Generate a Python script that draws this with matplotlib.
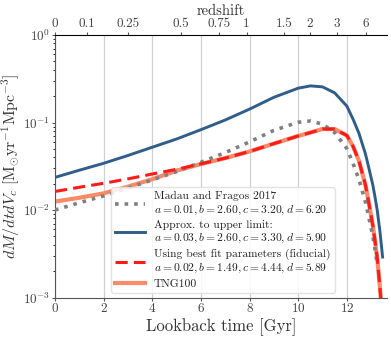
import numpy as np
import matplotlib
matplotlib.use("Agg")
import matplotlib.pyplot as plt

plt.rcParams["font.family"] = "serif"
plt.rcParams["font.serif"] = ["cmr10", "DejaVu Serif"]
plt.rcParams["mathtext.fontset"] = "cm"
plt.rcParams["axes.unicode_minus"] = False
plt.rcParams["axes.formatter.use_mathtext"] = True

# lookback time [Gyr] at which curves were read
t_gyr = [0, 1, 2, 3, 4, 5, 6, 7, 8, 9, 10, 10.5, 11, 11.5, 12, 12.25, 12.5,
         12.77, 12.9, 13.07, 13.15, 13.25, 13.36, 13.47]

madau = [0.0100, 0.0121, 0.0145, 0.0178, 0.0221, 0.0275, 0.0351, 0.0453,
         0.0601, 0.0814, 0.1006, 0.1041, 0.0958, 0.0767, 0.0504, 0.0343,
         0.0222, 0.0122, 0.0083, 0.0050, 0.0037, 0.0024]
upper = [0.0236, 0.0285, 0.0342, 0.0420, 0.0522, 0.0648, 0.0828, 0.1069,
         0.1423, 0.1942, 0.2468, 0.2622, 0.2556, 0.2180, 0.1540, 0.1100,
         0.0750, 0.0433, 0.0306, 0.0192, 0.0145, 0.0099, 0.0057, 0.0029]
bestfit = [0.0163, 0.0182, 0.0202, 0.0227, 0.0258, 0.0292, 0.0337, 0.0392,
           0.0467, 0.0574, 0.0702, 0.0767, 0.0843, 0.0842, 0.0710, 0.0538,
           0.0363, 0.0190, 0.0122, 0.0066, 0.0046, 0.0028, 0.0013, 0.00053]
tng100 = [0.0125, 0.0138, 0.0155, 0.0185, 0.0225, 0.0282, 0.0335, 0.0392,
          0.0467, 0.0574, 0.0702, 0.0767, 0.0843, 0.0842, 0.0710, 0.0538,
          0.0363, 0.0190, 0.0122, 0.0066, 0.0046, 0.0028, 0.0013, 0.00053]

z_ticks = ["0", "0.1", "0.25", "0.5", "0.75", "1", "1.5", "2", "3", "6"]
z_tick_t = [0, 1.33, 3.02, 5.18, 6.74, 7.88, 9.41, 10.48, 11.58, 12.77]

fig = plt.figure(figsize=(3.91, 3.38), dpi=100)
ax = fig.add_axes([0.1407, 0.1198, 0.849, 0.7766])

ax.plot(t_gyr[:len(madau)], madau, ls=":", color="gray", lw=2.6,
        label="Madau and Fragos 2017\n$a = 0.01, b = 2.60, c = 3.20, d = 6.20$", zorder=3)
ax.plot(t_gyr, upper, color="#2f5e8a", lw=2.1,
        label="Approx. to upper limit:\n$a = 0.03, b = 2.60, c = 3.30, d = 5.90$", zorder=3)
ax.plot(t_gyr, tng100, color="#fa8a68", lw=3.0, zorder=2, label="_tng")
ax.plot(t_gyr, bestfit, ls="--", color="#ff1a1a", lw=2.2, dashes=(4, 2),
        label="Using best fit parameters (fiducial)\n$a = 0.02, b = 1.49, c = 4.44, d = 5.89$", zorder=4)
ax.plot([], [], color="#fa8a68", lw=3.0, label="TNG100")

ax.set_yscale("log")
ax.set_xlim(0, 13.65)
ax.set_ylim(1e-3, 1)
ax.set_xticks(np.arange(0, 13, 2))
ax.grid(axis="x", color="#d0d0d0", lw=0.9)
ax.grid(axis="y", visible=False, which="both")
ax.tick_params(axis="both", labelsize=9.5, colors="#555555", labelcolor="#444444",
               length=2, pad=1.5)
ax.tick_params(axis="y", which="minor", length=1.5)
for s in ["top", "right"]:
    ax.spines[s].set_visible(False)
for s in ["left", "bottom"]:
    ax.spines[s].set_color("#555555")

ax.set_xlabel("Lookback time [Gyr]", fontsize=12, color="#333333", labelpad=2)
ax.set_ylabel(r"$dM/dtdV_c\ [\mathrm{M_{\odot}yr^{-1}Mpc^{-3}}]$", fontsize=11.5,
              color="#333333", labelpad=1)

top = ax.twiny()
top.set_xlim(ax.get_xlim())
top.set_xticks(z_tick_t)
top.set_xticklabels(z_ticks)
top.tick_params(axis="x", labelsize=9.5, colors="#555555", labelcolor="#444444",
                length=2, pad=1.5)
for s in ["left", "right", "bottom"]:
    top.spines[s].set_visible(False)
top.spines["top"].set_color("black")
top.set_xlabel("redshift", fontsize=10.5, color="#333333", labelpad=2.5)

leg = ax.legend(loc="lower left", bbox_to_anchor=(0.168, 0.018), borderaxespad=0,
                fontsize=8.3, frameon=True, fancybox=True, handlelength=2.6,
                labelspacing=0.3, handletextpad=0.8, borderpad=0.35)
leg.get_frame().set_edgecolor("#dddddd")
leg.get_frame().set_alpha(0.85)
for txt in leg.get_texts():
    txt.set_color("#222222")

fig.savefig("out.png", dpi=100)
